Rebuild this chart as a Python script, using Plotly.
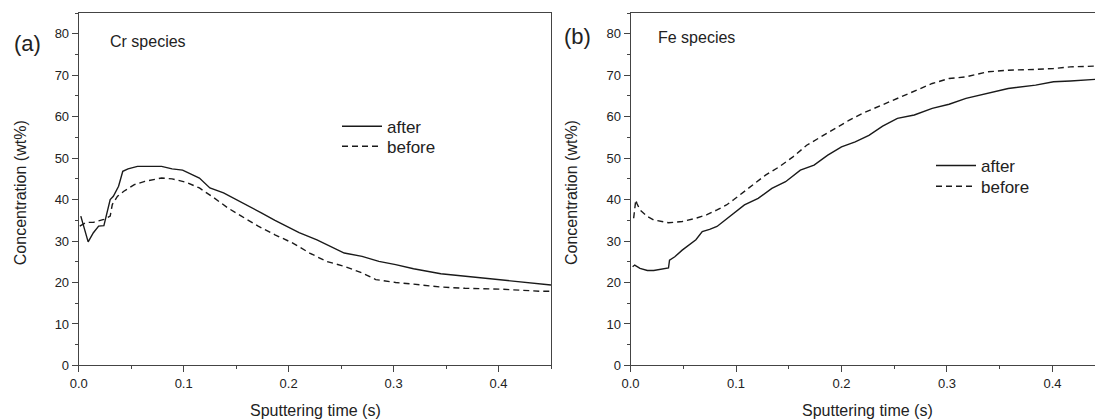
import plotly.graph_objects as go

# ---------------- data ----------------
cr_after_x = [0.002, 0.009, 0.014, 0.019, 0.024, 0.027, 0.030, 0.033, 0.038, 0.042, 0.047,
              0.056, 0.079, 0.089, 0.099, 0.115, 0.125, 0.138, 0.155, 0.174, 0.187, 0.200,
              0.210, 0.227, 0.240, 0.253, 0.270, 0.286, 0.302, 0.319, 0.345, 0.368, 0.401,
              0.430, 0.450]
cr_after_y = [36.0, 29.8, 32.0, 33.6, 33.7, 36.8, 40.0, 40.8, 43.2, 46.8, 47.4,
              48.0, 48.0, 47.4, 47.1, 45.2, 42.8, 41.6, 39.4, 36.8, 35.0, 33.2,
              32.0, 30.3, 28.7, 27.1, 26.3, 25.1, 24.3, 23.3, 22.1, 21.5, 20.7,
              19.9, 19.4]

cr_before_x = [0.001, 0.007, 0.014, 0.024, 0.030, 0.032, 0.037, 0.043, 0.053, 0.063, 0.079,
               0.089, 0.102, 0.115, 0.129, 0.142, 0.155, 0.171, 0.187, 0.204, 0.220, 0.236,
               0.253, 0.270, 0.283, 0.302, 0.319, 0.345, 0.368, 0.401, 0.439, 0.450]
cr_before_y = [33.6, 34.5, 34.5, 35.2, 36.0, 38.8, 40.8, 42.0, 43.6, 44.4, 45.2,
               45.0, 44.2, 42.8, 40.4, 38.0, 36.0, 33.6, 31.5, 29.5, 27.1, 25.1,
               23.9, 22.3, 20.7, 20.0, 19.6, 18.9, 18.6, 18.4, 17.9, 17.9]

fe_after_x = [0.002, 0.004, 0.009, 0.016, 0.022, 0.032, 0.036, 0.037, 0.042, 0.049, 0.055,
              0.062, 0.068, 0.075, 0.082, 0.088, 0.095, 0.101, 0.108, 0.121, 0.134, 0.147,
              0.161, 0.174, 0.187, 0.200, 0.213, 0.226, 0.239, 0.253, 0.269, 0.286, 0.302,
              0.318, 0.338, 0.358, 0.384, 0.401, 0.417, 0.441]
fe_after_y = [23.8, 24.2, 23.4, 22.9, 22.9, 23.4, 23.5, 25.4, 26.2, 27.8, 29.0,
              30.3, 32.3, 32.8, 33.5, 34.7, 36.3, 37.5, 38.7, 40.3, 42.7, 44.3,
              47.1, 48.3, 50.7, 52.7, 53.9, 55.5, 57.7, 59.6, 60.4, 62.0, 63.0,
              64.4, 65.6, 66.8, 67.6, 68.4, 68.6, 69.0]

fe_before_x = [0.003, 0.005, 0.006, 0.009, 0.016, 0.022, 0.036, 0.049, 0.062, 0.072, 0.082,
               0.091, 0.098, 0.108, 0.118, 0.128, 0.141, 0.154, 0.167, 0.180, 0.193, 0.207,
               0.220, 0.236, 0.253, 0.269, 0.286, 0.302, 0.318, 0.338, 0.358, 0.384, 0.401,
               0.417, 0.441]
fe_before_y = [35.5, 39.9, 39.1, 37.5, 35.9, 35.1, 34.4, 34.7, 35.5, 36.3, 37.5,
               38.7, 40.0, 41.9, 43.9, 45.9, 47.9, 50.3, 53.1, 55.1, 57.1, 59.1,
               60.8, 62.5, 64.4, 66.0, 68.0, 69.2, 69.6, 70.8, 71.2, 71.4, 71.6,
               72.0, 72.2]

series_names = ["after", "before"]
panel_labels = ["(a)", "(b)"]
species_labels = ["Cr species", "Fe species"]
x_title = "Sputtering time (s)"
y_title = "Concentration (wt%)"

# ---------------- layout helpers ----------------
W, H = 1095, 419
FONT = "Arial, 'Liberation Sans', sans-serif"
TXT = "#222222"
AX = "#444444"
LINE = "#1a1a1a"


def px(x):
    return x / W


def py(y):
    return (H - y) / H


fig = go.Figure()

solid = dict(color=LINE, width=1.4)
dashed = dict(color=LINE, width=1.4, dash="6px,4px")

fig.add_trace(go.Scatter(x=cr_after_x, y=cr_after_y, mode="lines", name=series_names[0],
                         line=solid, xaxis="x", yaxis="y", legend="legend"))
fig.add_trace(go.Scatter(x=cr_before_x, y=cr_before_y, mode="lines", name=series_names[1],
                         line=dashed, xaxis="x", yaxis="y", legend="legend2"))
fig.add_trace(go.Scatter(x=fe_after_x, y=fe_after_y, mode="lines", name=series_names[0],
                         line=solid, xaxis="x2", yaxis="y2", legend="legend3"))
fig.add_trace(go.Scatter(x=fe_before_x, y=fe_before_y, mode="lines", name=series_names[1],
                         line=dashed, xaxis="x2", yaxis="y2", legend="legend4"))

ydom = [py(365.4), py(13.0)]


def xaxis(domain, rng, anchor):
    return dict(domain=domain, range=rng, anchor=anchor, showgrid=False, zeroline=False,
                automargin=False,
                showline=True, linecolor=AX, linewidth=1, mirror=True,
                ticks="outside", ticklen=6, tickwidth=1, tickcolor=AX,
                dtick=0.1, tick0=0, tickformat=".1f",
                minor=dict(dtick=0.05, ticklen=3, ticks="outside", tickcolor=AX, showgrid=False),
                tickfont=dict(family=FONT, size=13, color=TXT))


def yaxis(anchor, mirror):
    return dict(domain=ydom, range=[0, 85], anchor=anchor, showgrid=False, zeroline=False,
                automargin=False,
                showline=True, linecolor=AX, linewidth=1, mirror=mirror,
                ticks="outside", ticklen=6, tickwidth=1, tickcolor=AX,
                dtick=10, tick0=0,
                minor=dict(dtick=5, ticklen=3, ticks="outside", tickcolor=AX, showgrid=False),
                tickfont=dict(family=FONT, size=13, color=TXT))


annotations = []
# axis titles
for cx in (315, 867.7):
    annotations.append(dict(text=x_title, x=px(cx), y=py(410), xref="paper", yref="paper",
                            xanchor="center", yanchor="middle", showarrow=False,
                            font=dict(family=FONT, size=16, color=TXT)))
for cx in (20.7, 571.5):
    annotations.append(dict(text=y_title, x=px(cx), y=py(192.5), xref="paper", yref="paper",
                            xanchor="center", yanchor="middle", showarrow=False, textangle=-90,
                            font=dict(family=FONT, size=16, color=TXT)))
# panel labels
for (lx, ly), t in zip([(12, 44), (562, 36)], panel_labels):
    annotations.append(dict(text=t, x=px(lx), y=py(ly), xref="paper", yref="paper",
                            xanchor="left", yanchor="middle", showarrow=False,
                            font=dict(family=FONT, size=22, color=TXT)))
for (lx, ly), t in zip([(108, 41), (656, 37.5)], species_labels):
    annotations.append(dict(text=t, x=px(lx), y=py(ly), xref="paper", yref="paper",
                            xanchor="left", yanchor="middle", showarrow=False,
                            font=dict(family=FONT, size=16, color=TXT)))

leg_common = dict(bgcolor="rgba(0,0,0,0)", borderwidth=0, xanchor="left", yanchor="middle",
                  font=dict(family=FONT, size=17, color=TXT), itemwidth=40,
                  tracegroupgap=0, traceorder="normal")

fig.update_layout(
    template="none",
    width=W, height=H, autosize=False,
    margin=dict(l=0, r=0, t=0, b=0, pad=0, autoexpand=False),
    paper_bgcolor="white", plot_bgcolor="white",
    showlegend=True,
    xaxis=xaxis([px(78.7), px(551)], [0, 0.45], "y"),
    yaxis=yaxis("x", True),
    xaxis2=xaxis([px(630.5), 1.0], [0, 0.4403], "y2"),
    yaxis2=yaxis("x2", False),
    legend=dict(x=px(337), y=py(126.7), **leg_common),
    legend2=dict(x=px(337), y=py(146.7), **leg_common),
    legend3=dict(x=px(931), y=py(166), **leg_common),
    legend4=dict(x=px(931), y=py(186.7), **leg_common),
    annotations=annotations,
)

fig.write_html("out.html",
               config={"displayModeBar": False},
               post_script="document.body.style.margin='0';document.body.style.padding='0';")
